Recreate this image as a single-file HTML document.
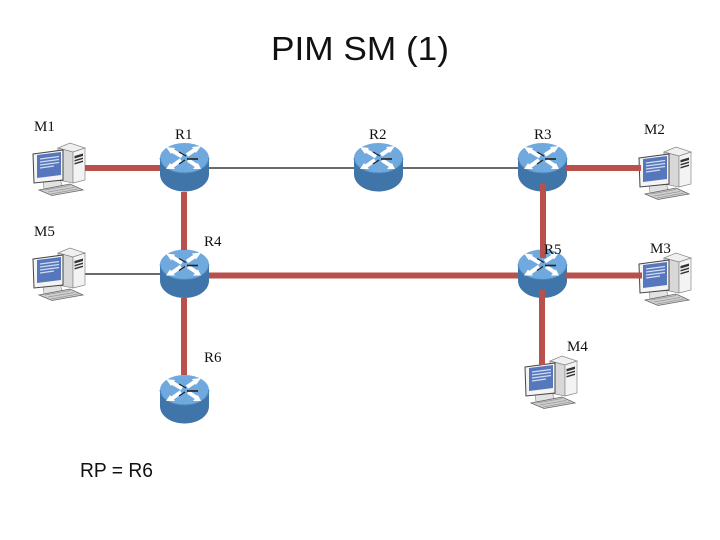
<!DOCTYPE html>
<html><head><meta charset="utf-8"><style>
html,body{margin:0;padding:0;background:#fff}
svg{display:block}
.l{font-family:"Liberation Serif",serif;font-size:15px;fill:#111}
.t{font-family:"Liberation Sans",sans-serif;fill:#111}
</style></head><body>
<svg width="720" height="540" viewBox="0 0 720 540" xmlns="http://www.w3.org/2000/svg">
<defs>
<g id="router">
<path d="M0 15V31C0 41 11 48.500 24.500 48.500S49 41 49 31V15Z" fill="#3f75a8"/>
<ellipse cx="24.500" cy="15" rx="24.500" ry="15" fill="#6fa9de"/>
<path d="M0 15C1 24 11 30 24.500 30S48 24 49 15" fill="none" stroke="#4f86bb" stroke-width="1"/>
<g fill="none">
<path d="M11 7L22 13.500" stroke="#fff" stroke-width="4"/>
<path d="M27 12L36 6" stroke="#fff" stroke-width="4"/>
<path d="M11 24L21 17" stroke="#fff" stroke-width="4"/>
<path d="M28 17L37 23" stroke="#fff" stroke-width="4"/>
<path d="M19 9L26 13" stroke="#222" stroke-width="1.200"/>
<path d="M27 16H38" stroke="#222" stroke-width="1.600"/>
<path d="M19 21L25 17" stroke="#222" stroke-width="1.200"/>
</g>
<path d="M6 4L15 5L11 11Z M41 3L32 4L36 10Z M6 26L15 26L10 20Z M41 26L33 26L38 20Z" fill="#fff"/>
</g>
<g id="pc">
<path d="M26 6L38 1L53 6L41 10Z" fill="#f0f0f0" stroke="#888" stroke-width=".7"/>
<path d="M26 6L41 10V41L26 38Z" fill="#d8d8d8" stroke="#888" stroke-width=".7"/>
<path d="M41 10L53 6V38L41 41Z" fill="#f3f3f3" stroke="#888" stroke-width=".7"/>
<path d="M42.500 14L51 11.500V14L42.500 16.500Z M42.500 18L51 15.500V17L42.500 19.500Z M42.500 21L51 18.500V20L42.500 22.500Z" fill="#333"/>
<path d="M11 39L28 37L30 43L26 46L12 47Z" fill="#e2e2e2" stroke="#888" stroke-width=".6"/>
<path d="M1 12L31 8V38L2 41Z" fill="#f4f4f4" stroke="#444" stroke-width="1"/>
<path d="M5 13L29 10V33L5 36Z" fill="#5777bd"/>
<path d="M8 17L27 14.500M8 20L27 17.500M8 23L27 20.500M8 26L22 24" stroke="#d2dcf2" stroke-width="1.300"/>
<path d="M7 48L38 42L51 48L20 53.500Z" fill="#cfcfcf" stroke="#666" stroke-width=".8"/>
<path d="M13 48L38 43.500M16 50L42 45.500M19 52L46 47" stroke="#999" stroke-width=".8"/>
</g>
</defs>
<text class="t" x="271" y="60" font-size="33.500" textLength="178" lengthAdjust="spacingAndGlyphs">PIM SM (1)</text>
<text class="t" x="80" y="477" font-size="20" textLength="73" lengthAdjust="spacingAndGlyphs">RP = R6</text>

<path d="M205 168H520" stroke="#111" stroke-width="1.300"/>
<path d="M84 274H162" stroke="#111" stroke-width="1.300"/>

<use href="#pc" x="32" y="142"/>
<use href="#pc" x="638" y="146"/>
<use href="#pc" x="32" y="247"/>
<use href="#pc" x="638" y="252"/>
<use href="#pc" x="524" y="355"/>

<use href="#router" x="160" y="143"/>
<use href="#router" x="354" y="143"/>
<use href="#router" x="518" y="143"/>
<use href="#router" x="160" y="249.500"/>
<use href="#router" x="518" y="249.500"/>
<use href="#router" x="160" y="375"/>

<g stroke="#b8504c" stroke-width="6" fill="none">
<path d="M85 168H160"/>
<path d="M566 168H641"/>
<path d="M184 192V250"/>
<path d="M184 298V375"/>
<path d="M209 275.500H518"/>
<path d="M566 275.500H642"/>
<path d="M543 183V258"/>
<path d="M542 290V365"/>
</g>

<text class="l" x="34" y="131">M1</text>
<text class="l" x="175" y="139">R1</text>
<text class="l" x="369" y="139">R2</text>
<text class="l" x="534" y="139">R3</text>
<text class="l" x="644" y="134">M2</text>
<text class="l" x="34" y="236">M5</text>
<text class="l" x="204" y="246">R4</text>
<text class="l" x="544" y="254">R5</text>
<text class="l" x="650" y="253">M3</text>
<text class="l" x="204" y="362">R6</text>
<text class="l" x="567" y="351">M4</text>
</svg>
</body></html>
